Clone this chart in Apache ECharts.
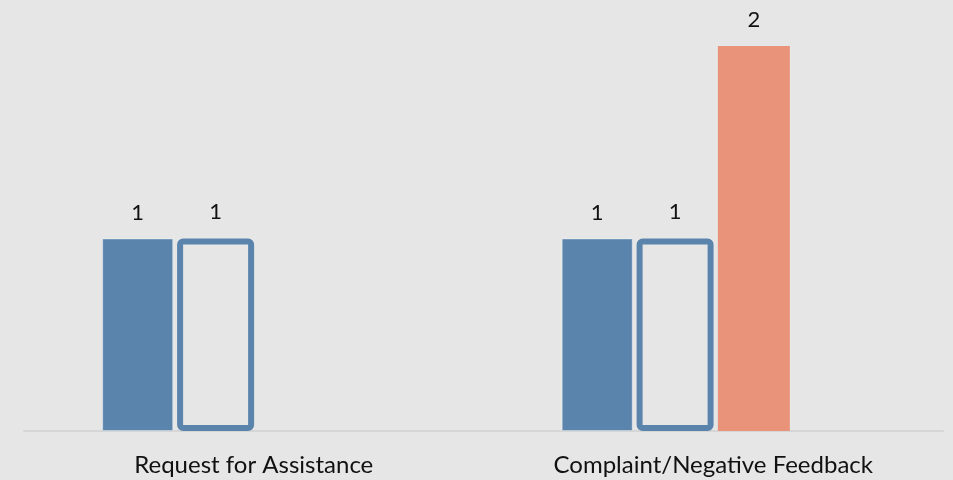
<!DOCTYPE html>
<html>
<head>
<meta charset="utf-8">
<style>
  html, body { margin: 0; padding: 0; background: #e6e6e6; }
  #chart { width: 953px; height: 480px; }
</style>
<script src="https://cdn.jsdelivr.net/npm/echarts@6/dist/echarts.min.js"></script>
</head>
<body>
<div id="chart"></div>
<script>
const categories = ['Request for Assistance', 'Complaint/Negative Feedback'];
const solidValues = [1, 1];
const outlineValues = [1, 1];
const salmonValues = [null, 2];
const spareValues = [null, null];

const BLUE = '#5b84ad';
const SALMON = '#e8937a';
const BG = '#e6e6e6';
const FONT = 'Lato, "Open Sans", sans-serif';

const valueLabel = {
  show: true,
  position: 'top',
  distance: 15,
  color: '#111',
  fontFamily: FONT,
  fontSize: 22
};

const chart = echarts.init(document.getElementById('chart'), null, { renderer: 'canvas' });
chart.setOption({
  backgroundColor: BG,
  animation: false,
  grid: { left: 24, right: 10, top: 46, bottom: 49, containLabel: false },
  xAxis: {
    type: 'category',
    data: categories,
    axisTick: { show: false },
    axisLine: { show: true, lineStyle: { color: '#d6d6d6', width: 2 } },
    axisLabel: {
      color: '#111',
      fontFamily: FONT,
      fontSize: 24,
      margin: 22
    }
  },
  yAxis: {
    type: 'value',
    min: 0,
    max: 2,
    show: false,
    splitLine: { show: false }
  },
  series: [
    {
      type: 'bar',
      data: solidValues,
      barWidth: 71,
      barGap: '5.5%',
      itemStyle: { color: BLUE, borderColor: 'rgba(255,255,255,0.35)', borderWidth: 1 },
      label: valueLabel
    },
    {
      type: 'bar',
      data: outlineValues,
      barWidth: 77,
      itemStyle: { color: BG, borderColor: BLUE, borderWidth: 6, borderRadius: 3 },
      label: Object.assign({}, valueLabel, { distance: 16 })
    },
    {
      type: 'bar',
      data: salmonValues,
      barWidth: 72,
      itemStyle: { color: SALMON },
      label: valueLabel
    },
    {
      type: 'bar',
      data: spareValues,
      barWidth: 71,
      itemStyle: { color: '#a5a5a5' },
      label: { show: false }
    }
  ]
});
</script>
</body>
</html>
